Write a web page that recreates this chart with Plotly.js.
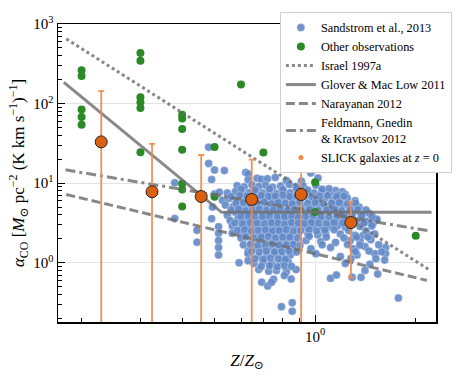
<!DOCTYPE html>
<html>
<head>
<meta charset="utf-8">
<script src="https://cdn.plot.ly/plotly-3.0.1.min.js"></script>
<style>
  html, body { margin: 0; padding: 0; background: #fff; }
  #chart { width: 464px; height: 376px; }
</style>
</head>
<body>
<div id="chart"></div>
<script>
// ---- data ----

// Sandstrom et al. 2013 (blue cloud), outer points
const sand_z = [
  0.48, 0.48, 0.50, 0.535, 0.62, 0.63, 0.97, 1.02, 0.49, 0.63, 0.67, 0.69, 0.72, 0.76, 0.82, 0.91, 0.38,
  0.584, 0.613, 0.647, 0.678, 0.711, 0.746, 0.788, 0.837, 0.877, 0.920, 1.005, 1.151, 1.206, 1.17,
  0.500, 0.517, 0.546, 0.577, 0.605, 0.634, 0.665, 0.697, 0.731, 0.766, 0.804, 0.843, 0.884, 0.939, 0.991, 1.046, 1.105, 1.231,
  0.528, 0.553, 0.584, 0.613, 0.643, 0.674, 0.706, 0.741, 0.777, 0.815, 0.854, 0.896, 0.958, 1.012, 1.068, 1.127, 1.190, 1.248, 1.317,
  0.493, 0.539, 0.569, 0.596, 0.625, 0.656, 0.688, 0.721, 0.756, 0.793, 0.831, 0.872, 0.914, 0.978, 1.032, 1.090, 1.151, 1.214, 1.282, 1.353,
  0.546, 0.577, 0.605, 0.634, 0.665, 0.697, 0.731, 0.766, 0.804, 0.843, 0.884, 0.939, 0.991, 1.046, 1.105, 1.166, 1.231, 1.300, 1.372, 1.449,
  1.41, 1.53, 1.49,
  0.38, 0.490, 0.557, 0.588, 0.617, 0.647, 0.678, 0.711, 0.746, 0.782, 0.820, 0.860, 0.902, 0.952, 1.005, 1.061, 1.120, 1.182, 1.248, 1.335, 1.429, 1.529,
  0.514, 0.565, 0.600, 0.630, 0.660, 0.692, 0.726, 0.761, 0.798, 0.837, 0.877, 0.939, 0.991, 1.046, 1.105, 1.166, 1.231, 1.363, 1.478,
  0.443, 0.514, 0.565, 0.605, 0.634, 0.665, 0.697, 0.731, 0.766, 0.804, 0.843, 0.889, 0.952, 1.018, 1.075, 1.190, 1.317, 1.391, 1.508,
  0.443, 0.514, 0.600, 0.647, 0.678, 0.711, 0.746, 0.782, 0.820, 0.866, 0.939, 1.039, 1.151, 1.274, 1.363, 1.468,
  0.514, 0.630, 0.660, 0.697, 0.736, 0.777, 0.820, 0.866, 0.971, 1.112, 1.300, 1.410, 1.625,
  0.514, 0.630, 0.678, 0.716, 0.756, 0.798, 0.843, 1.005, 1.190, 1.335, 1.508, 1.625,
  0.592, 0.656, 0.697, 0.741, 0.788, 0.831, 1.231, 1.458, 1.614, 0.63,
  0.678, 0.726, 0.766, 0.820, 0.877, 1.410,
  0.751, 0.809, 0.848, 1.112, 1.158, 1.291, 1.372, 1.539,
  0.692, 0.721, 0.741,
  0.793, 0.854, 0.854, 1.775
];
const sand_alpha = [
  28.3, 17.7, 14.6, 14.4, 13.6, 13.0, 13.4, 11.6, 11.1, 11.0, 11.5, 11.2, 11.4, 11.8, 10.8, 10.6, 10.1,
  9.3, 9.0, 9.5, 9.1, 9.4, 8.9, 9.2, 9.6, 9.0, 9.3, 9.4, 8.1, 7.8, 7.1,
  7.3, 7.7, 7.5, 7.8, 7.4, 7.6, 7.9, 7.5, 7.7, 7.4, 7.8, 7.6, 7.3, 7.7, 7.5, 7.9, 7.4, 7.2,
  6.1, 6.4, 6.2, 6.0, 6.3, 6.5, 6.1, 6.3, 6.0, 6.4, 6.2, 6.1, 6.3, 6.0, 6.4, 6.2, 6.1, 6.5, 6.0,
  5.0, 5.3, 5.1, 4.9, 5.2, 5.0, 5.3, 5.1, 4.9, 5.2, 5.0, 5.3, 5.1, 4.9, 5.2, 5.0, 5.1, 5.3, 4.9, 5.0,
  3.95, 4.3, 4.2, 4.0, 4.4, 4.1, 4.3, 4.2, 4.0, 4.4, 4.1, 4.3, 4.2, 4.0, 4.4, 4.2, 4.1, 4.3, 4.0, 4.2,
  3.27, 3.52, 3.11,
  3.6, 3.58, 3.4, 3.6, 3.3, 3.5, 3.4, 3.6, 3.3, 3.5, 3.4, 3.6, 3.3, 3.5, 3.4, 3.6, 3.3, 3.5, 3.4, 3.3, 3.3, 3.5,
  2.84, 2.9, 2.7, 2.85, 2.95, 2.75, 2.9, 2.8, 2.7, 2.95, 2.85, 2.8, 2.9, 2.75, 2.85, 2.9, 2.8, 2.85, 2.9,
  2.56, 2.35, 2.35, 2.2, 2.4, 2.3, 2.25, 2.4, 2.3, 2.35, 2.2, 2.4, 2.3, 2.25, 2.35, 2.3, 2.22, 2.2, 2.3,
  1.81, 1.9, 2.04, 1.8, 1.95, 1.85, 1.8, 1.9, 1.85, 1.8, 1.9, 1.85, 1.8, 1.9, 1.85, 1.95,
  1.55, 1.4, 1.55, 1.5, 1.6, 1.5, 1.55, 1.45, 1.5, 1.55, 1.5, 1.6, 1.55,
  1.25, 1.3, 1.2, 1.25, 1.3, 1.2, 1.25, 1.3, 1.2, 1.25, 1.3, 1.3,
  1.0, 0.98, 1.03, 0.97, 1.0, 1.02, 0.98, 0.96, 1.08, 1.06,
  0.82, 0.78, 0.80, 0.77, 0.82, 0.80,
  0.62, 0.69, 0.625, 0.637, 0.70, 0.655, 0.655, 0.72,
  0.57, 0.51, 0.57,
  0.28, 0.315, 0.246, 0.36
];

// Sandstrom et al. 2013, dense core between the rows above
const sand_core_z = [
  0.60, 0.66, 0.73, 0.80, 0.88, 0.95, 1.05, 1.10,
  0.56, 0.595, 0.625, 0.655, 0.69, 0.725, 0.76, 0.80, 0.84, 0.88, 0.93, 0.98, 1.03, 1.09, 1.16, 1.22,
  0.58, 0.61, 0.64, 0.67, 0.705, 0.74, 0.775, 0.815, 0.855, 0.90, 0.95, 1.00, 1.06, 1.12, 1.18, 1.25, 1.32,
  0.56, 0.59, 0.62, 0.65, 0.68, 0.715, 0.75, 0.785, 0.825, 0.865, 0.91, 0.96, 1.02, 1.08, 1.14, 1.20, 1.27, 1.34, 1.42,
  0.60, 0.63, 0.66, 0.695, 0.73, 0.77, 0.81, 0.85, 0.89, 0.935, 0.985, 1.04, 1.10, 1.16, 1.22, 1.29, 1.38, 1.48,
  0.575, 0.605, 0.64, 0.67, 0.705, 0.74, 0.775, 0.81, 0.85, 0.89, 0.93, 0.975, 1.025, 1.08, 1.14, 1.21, 1.30, 1.40,
  0.585, 0.615, 0.645, 0.675, 0.71, 0.745, 0.78, 0.82, 0.86, 0.905, 0.96, 1.01, 1.07, 1.14, 1.26, 1.42,
  0.62, 0.655, 0.69, 0.725, 0.76, 0.80, 0.84, 0.885, 0.96, 1.08, 1.22, 1.33, 1.44,
  0.61, 0.64, 0.675, 0.71, 0.745, 0.78, 0.82, 0.86, 0.90, 1.05, 1.25, 1.36, 1.55,
  0.645, 0.68, 0.715, 0.755, 0.795, 0.835, 0.88, 1.32, 1.45, 1.58,
  0.66, 0.70, 0.735, 0.775, 0.815, 1.28, 1.52,
  0.69, 0.73, 0.77, 0.81, 0.85
];
const sand_core_alpha = [
  8.4, 8.2, 8.5, 8.3, 8.6, 8.2, 8.4, 8.5,
  6.8, 7.0, 6.9, 6.7, 7.0, 6.8, 6.9, 7.1, 6.8, 6.9, 7.0, 6.7, 6.9, 7.0, 6.8, 6.9,
  5.6, 5.7, 5.5, 5.6, 5.8, 5.5, 5.7, 5.6, 5.5, 5.8, 5.6, 5.7, 5.5, 5.6, 5.7, 5.5, 5.6,
  4.6, 4.7, 4.5, 4.6, 4.75, 4.55, 4.6, 4.7, 4.5, 4.65, 4.6, 4.7, 4.55, 4.6, 4.7, 4.5, 4.6, 4.65, 4.6,
  3.8, 3.85, 3.75, 3.8, 3.9, 3.75, 3.8, 3.85, 3.7, 3.8, 3.9, 3.75, 3.8, 3.85, 3.75, 3.8, 3.9, 3.8,
  3.15, 3.1, 3.2, 3.15, 3.1, 3.2, 3.15, 3.05, 3.2, 3.15, 3.1, 3.2, 3.15, 3.1, 3.2, 3.15, 3.1, 3.15,
  2.55, 2.6, 2.5, 2.55, 2.6, 2.5, 2.55, 2.6, 2.5, 2.55, 2.6, 2.5, 2.55, 2.6, 2.55, 2.5,
  2.1, 2.05, 2.1, 2.15, 2.05, 2.1, 2.1, 2.05, 2.15, 2.1, 2.05, 2.1, 2.1,
  1.68, 1.7, 1.65, 1.68, 1.72, 1.66, 1.68, 1.7, 1.65, 1.68, 1.7, 1.66, 1.68,
  1.38, 1.36, 1.4, 1.37, 1.38, 1.4, 1.36, 1.38, 1.4, 1.37,
  1.12, 1.1, 1.14, 1.12, 1.1, 1.13, 1.12,
  0.9, 0.92, 0.89, 0.91, 0.9
];

// other observations (green)
const other_z = [
  0.2, 0.2, 0.2, 0.2, 0.2,
  0.3, 0.3, 0.3, 0.3, 0.3, 0.3,
  0.4, 0.4, 0.4, 0.4, 0.4, 0.4, 0.4,
  0.5, 0.5, 0.6, 0.7, 1.0, 1.0, 2.0
];
const other_alpha = [
  263, 222, 84, 68, 54,
  432, 345, 120, 104, 88, 24.4,
  72.5, 64.8, 47.9, 26.3, 9.8, 8.35, 5.08,
  28.4, 6.74, 174, 24.2, 10.3, 4.33, 2.18
];

// model relations
const israel_z = [0.18, 2.2];
const israel_alpha = [650, 0.81];
const glover_z = [0.177, 0.525, 2.23];
const glover_alpha = [185, 4.3, 4.3];
const narayanan_z = [0.18, 2.16];
const narayanan_alpha = [7.2, 0.60];
const feldmann_z = [0.179, 2.21];
const feldmann_alpha = [14.7, 2.5];

// SLICK galaxies at z = 0
const slick_z = [0.229, 0.325, 0.456, 0.646, 0.908, 1.28];
const slick_alpha = [33, 7.8, 6.8, 6.25, 7.2, 3.2];
const slick_err = [110, 23.3, 15.8, 13.5, 9.4, 2.55];

// tick labels
const x_tickvals = [1];
const x_ticktext = ['10<sup>0</sup>'];
const y_tickvals = [1, 10, 100, 1000];
const y_ticktext = ['10<sup>0</sup>', '10<sup>1</sup>', '10<sup>2</sup>', '10<sup>3</sup>'];

// ---- plot ----

const SERIF = '"Liberation Serif", "DejaVu Serif", serif';
const LINE_GREY = 'rgba(110,110,110,0.82)';

function minor_ticks(lo, hi){
    // 2..9 times each decade between lo and hi
    let vals = [];
    for(let d = lo; d < hi; d++){
        for(let k = 2; k < 10; k++){ vals.push(k * Math.pow(10, d)); }
    }
    return vals;
}

function model_line(x, y, name, dash, width){
    return {
        type: 'scatter', mode: 'lines', name: name,
        x: x, y: y,
        line: { color: LINE_GREY, dash: dash, width: width },
    };
}

let traces = [];

traces.push({
    type: 'scatter', mode: 'markers', name: 'Sandstrom et al., 2013',
    x: sand_z.concat(sand_core_z), y: sand_alpha.concat(sand_core_alpha),
    marker: { color: 'rgba(98,136,200,0.9)', size: 8, line: { color: 'rgba(255,255,255,0.5)', width: 0.6 } },
});

traces.push({
    type: 'scatter', mode: 'markers', name: 'Other observations',
    x: other_z, y: other_alpha,
    marker: { color: '#2b8a26', size: 8 },
});

traces.push(model_line(israel_z, israel_alpha, 'Israel 1997a', '3px,3px', 3));
traces.push(model_line(glover_z, glover_alpha, 'Glover &amp; Mac Low 2011', 'solid', 3));
traces.push(model_line(narayanan_z, narayanan_alpha, 'Narayanan 2012', '9px,4px', 3));
traces.push(model_line(feldmann_z, feldmann_alpha, 'Feldmann, Gnedin<br>&amp; Kravtsov 2012', '10px,4px,3px,4px', 3));

traces.push({
    type: 'scatter', mode: 'markers', name: 'SLICK galaxies at <i>z</i> = 0',
    x: slick_z, y: slick_alpha,
    showlegend: false,
    error_y: { type: 'data', array: slick_err, visible: true, color: 'rgba(240,140,75,0.95)', thickness: 1.8, width: 3 },
    marker: { color: '#dd6010', size: 12, line: { color: '#222', width: 1 } },
});

// legend entry for SLICK (small marker like the original key)
traces.push({
    type: 'scatter', mode: 'markers', name: 'SLICK galaxies at <i>z</i> = 0',
    x: [null], y: [null],
    marker: { color: '#ee8a45', size: 5 },
});

const axis_common = {
    type: 'log',
    showline: true, mirror: true, linecolor: 'black', linewidth: 1.5,
    ticks: 'inside', ticklen: 7, tickwidth: 1, tickcolor: 'black',
    showgrid: true, gridcolor: '#e3e3e3', gridwidth: 1,
    zeroline: false,
    tickfont: { family: SERIF, size: 15, color: 'black' },
    tickmode: 'array',
};

const layout = {
    width: 464, height: 376,
    margin: { l: 58, r: 22, t: 17, b: 54, pad: 0 },
    paper_bgcolor: 'white', plot_bgcolor: 'white',
    showlegend: true,
    legend: {
        x: 1.042, y: 1.04, xanchor: 'right', yanchor: 'top',
        bgcolor: 'white', bordercolor: '#cfcfcf', borderwidth: 1,
        font: { family: SERIF, size: 12.3, color: 'black' },
        tracegroupgap: 0,
    },
    xaxis: Object.assign({}, axis_common, {
        range: [Math.log10(0.17), Math.log10(2.3)],
        tickvals: x_tickvals, ticktext: x_ticktext,
        minor: { ticks: 'inside', ticklen: 4, tickcolor: 'black', tickvals: minor_ticks(-1, 1), showgrid: false },
        title: { text: '<i>Z</i>/<i>Z</i><sub>⊙</sub>', font: { family: SERIF, size: 17, color: 'black' }, standoff: 10 },
    }),
    yaxis: Object.assign({}, axis_common, {
        range: [Math.log10(0.18), 3],
        tickvals: y_tickvals, ticktext: y_ticktext,
        minor: { ticks: 'inside', ticklen: 4, tickcolor: 'black', tickvals: minor_ticks(-1, 3), showgrid: false },
        title: {
            text: '<i>α</i><sub>CO</sub> [<i>M</i><sub>⊙</sub> pc<sup>−2</sup> (K km s<sup>−1</sup>)<sup>−1</sup>]',
            font: { family: SERIF, size: 17, color: 'black' }, standoff: 4,
        },
    }),
};

Plotly.newPlot('chart', traces, layout, { displayModeBar: false, staticPlot: true });
</script>
</body>
</html>
